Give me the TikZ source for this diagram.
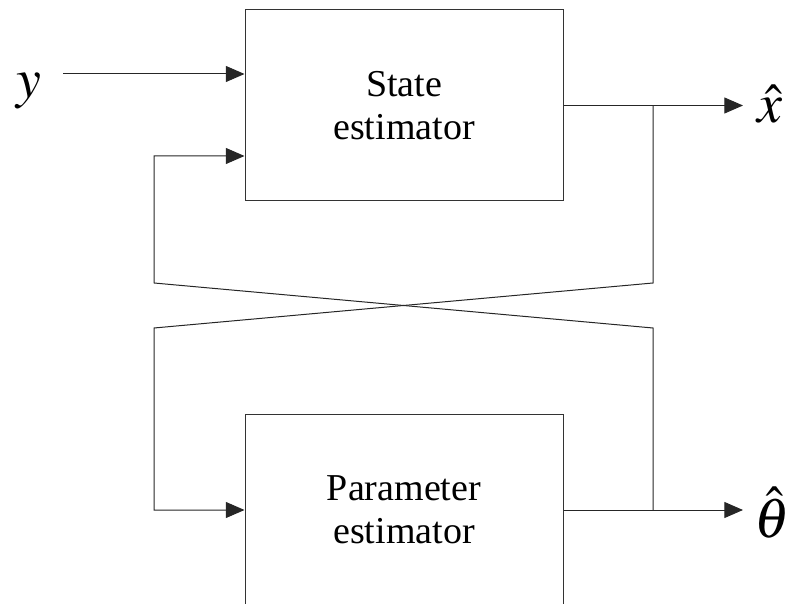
\documentclass[tikz,border=0pt]{standalone}
\usepackage{mathptmx}
\usepackage[no-math]{fontspec}
\setmainfont{Liberation Serif}
\newfontfamily\boxfont{Liberation Serif}
\usepackage{tikz}
\usetikzlibrary{arrows.meta,positioning,calc}

\begin{document}
\begin{tikzpicture}[
    x=0.75pt, y=0.75pt,
    process/.style={rectangle, draw=black!80, line width=0.75pt, minimum width=238.5pt, minimum height=143.25pt, text centered, align=center, font=\boxfont\fontsize{28.5}{32.5}\selectfont},
    signal/.style={inner sep=0pt, font=\fontsize{42}{48}\selectfont},
    line/.style={draw=black!85, line width=0.75pt},
    arrow/.style={line, -{Triangle[length=14pt, width=12pt]}}
]
\clip (0,0) rectangle (787,603);

\node[process] (state) at (404,497.5) {State\\estimator};
\node[process] (param) at (404,93) {Parameter\\estimator};

\node[signal] (y) at (29,512) {$y$};
\node[signal] (xhat) at (770,499) {$\hat{x}$};
\node[signal] (thetahat) at (772,90) {$\hat{\theta}$};

% branch points and crossing
\coordinate (yin) at (63,529);
\coordinate (xout) at (743,497.5);
\coordinate (thout) at (743,93);
\coordinate (xsplit) at (653,497.5);
\coordinate (tsplit) at (653,93);
\coordinate (rhi) at (653,320);
\coordinate (rlo) at (653,275);
\coordinate (lhi) at (154,320);
\coordinate (llo) at (154,275);
\coordinate (lin) at (154,447);

\draw[arrow] (yin) -- (state.west |- yin);
\draw[arrow] (state.east) -- (xout);
\draw[arrow] (param.east) -- (thout);
\draw[arrow] (xsplit) -- (rhi) -- (llo) -- (llo |- param.west) -- (param.west);
\draw[arrow] (tsplit) -- (rlo) -- (lhi) -- (lin) -- (state.west |- lin);

\end{tikzpicture}
\end{document}
